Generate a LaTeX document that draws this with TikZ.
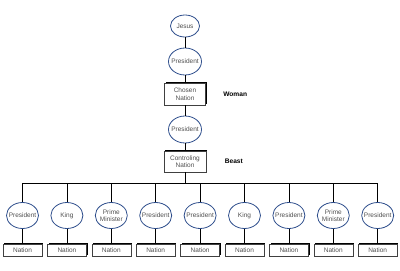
\documentclass[tikz,border=0pt]{standalone}
\usepackage{fontspec}
\setmainfont{Liberation Sans}
\usetikzlibrary{positioning,shapes.geometric,shadows}
\definecolor{ringblue}{HTML}{2E4E8C}
\definecolor{labelgray}{HTML}{505050}

\begin{document}
\begin{tikzpicture}[x=1pt, y=-1pt,
  ring/.style={draw=ringblue, ellipse, line width=0.8pt, inner xsep=-4pt, inner ysep=0pt, fill=white, align=center,
    minimum width=33pt, minimum height=27pt, text=labelgray, font=\fontsize{6.5}{7}\selectfont},
  nationbox/.style={draw=black!75, line width=0.6pt, inner sep=0pt, fill=white, align=center,
    drop shadow={shadow xshift=1.2pt, shadow yshift=1.2pt, fill=black, opacity=1},
    text=labelgray, font=\fontsize{6.5}{7.5}\selectfont},
  link/.style={line width=0.7pt},
  tag/.style={font=\bfseries\fontsize{6.6}{7}\selectfont}
]
\useasboundingbox (0,0) rectangle (400,271);

% top chain
\node[ring, minimum width=29pt, minimum height=22pt] (jesus) at (185,26) {Jesus};
\node[ring] (pres1) at (185,61.5) {President};
\node[nationbox, minimum width=41pt, minimum height=22pt] (chosen) at (185,94) {Chosen\\Nation};
\node[ring] (pres2) at (185,129.5) {President};
\node[nationbox, minimum width=42pt, minimum height=21pt] (ctrl) at (185,161.5) {Controling\\Nation};

\node[tag, right=14pt of chosen] (woman) {Woman};
\node[tag, right=15pt of ctrl] (beast) {Beast};

\draw[link] (jesus) -- (pres1);
\draw[link] (pres1) -- (chosen);
\draw[link] (chosen) -- (pres2);
\draw[link] (pres2) -- (ctrl);

% bottom row
\coordinate (bus) at (185,183);
\foreach \ruler [count=\i] in {President,King,{Prime\\Minister},President,President,King,President,{Prime\\Minister},President}{
  \node[ring, minimum width=32pt, minimum height=26pt] (p\i) at ({22.5+44.4*(\i-1)},215.5) {\ruler};
  \node[nationbox, minimum width=39pt, minimum height=12pt] (n\i) at ({22.5+44.4*(\i-1)},250) {Nation};
  \draw[link] (ctrl.south) |- (p\i.north |- bus) -- (p\i.north);
  \draw[link] (p\i) -- (n\i);
}
\end{tikzpicture}
\end{document}
